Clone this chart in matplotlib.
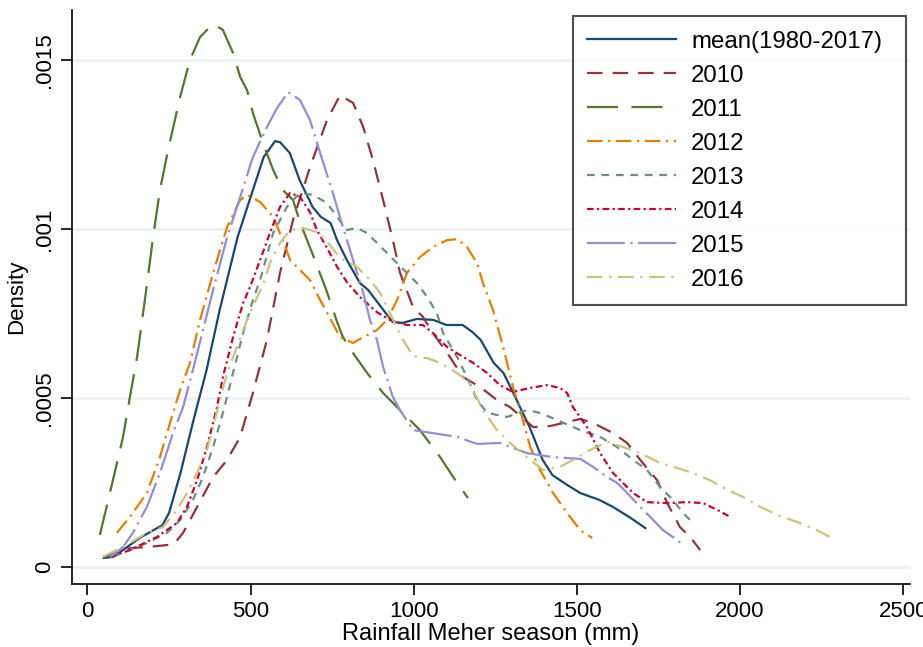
import numpy as np
import matplotlib
matplotlib.use("Agg")
import matplotlib.pyplot as plt

plt.rcParams['font.family'] = ['Liberation Sans', 'DejaVu Sans']

# kernel density curves (density in units of 1e-4)
mean_x = [50, 80, 160, 230, 250, 285, 325, 365, 405, 460, 500, 540, 575, 590, 620, 650, 690, 715, 745, 765,
          795, 835, 860, 900, 935, 965, 1010, 1060, 1100, 1150, 1180, 1205, 1245, 1275, 1305, 1355, 1395, 1425,
          1470, 1510, 1570, 1610, 1665, 1710]
mean_y = [0.27, 0.30, 0.86, 1.24, 1.60, 2.78, 4.35, 5.83, 7.60, 9.76, 10.95, 12.13, 12.60, 12.57, 12.25, 11.45,
          10.65, 10.36, 10.18, 9.67, 9.08, 8.40, 8.20, 7.69, 7.25, 7.22, 7.34, 7.31, 7.16, 7.16, 6.95, 6.72, 6.04,
          5.74, 5.15, 4.14, 3.17, 2.72, 2.43, 2.19, 1.98, 1.78, 1.45, 1.15]

y2010_x = [48, 130, 182, 244, 268, 293, 336, 385, 428, 468, 507, 550, 590, 630, 682, 734, 774, 814, 845, 875,
           906, 936, 958, 998, 1028, 1059, 1111, 1151, 1203, 1255, 1295, 1366, 1418, 1458, 1510, 1550, 1611, 1654,
           1694, 1746, 1777, 1816, 1847, 1878]
y2010_y = [0.30, 0.56, 0.59, 0.65, 0.71, 1.01, 1.78, 2.66, 3.17, 3.85, 5.15, 6.72, 8.70, 10.27, 11.83, 13.22,
           13.96, 13.73, 13.02, 12.04, 10.86, 9.67, 8.70, 7.69, 7.40, 6.92, 6.21, 5.62, 5.33, 4.94, 4.73, 4.14,
           4.17, 4.26, 4.38, 4.26, 3.96, 3.67, 3.17, 2.57, 1.89, 1.18, 0.89, 0.50]

y2011_x = [38, 78, 109, 130, 152, 182, 201, 222, 247, 284, 314, 345, 385, 415, 446, 468, 489, 507, 538, 569,
           599, 630, 651, 691, 734, 765, 783, 814, 857, 906, 958, 1019, 1081, 1121, 1166]
y2011_y = [0.95, 2.57, 3.85, 5.03, 6.21, 8.34, 9.76, 11.15, 12.34, 13.91, 15.0, 15.68, 16.07, 15.89, 15.21,
           14.50, 14.11, 13.43, 12.54, 11.75, 11.15, 10.86, 10.21, 9.23, 8.14, 7.25, 6.80, 6.33, 5.74, 5.15, 4.64,
           4.05, 3.25, 2.66, 2.04]

y2012_x = [90, 130, 182, 222, 262, 284, 314, 345, 385, 428, 468, 489, 529, 569, 599, 621, 651, 682, 713, 743,
           774, 814, 845, 887, 918, 949, 979, 1019, 1059, 1102, 1133, 1163, 1194, 1212, 1243, 1274, 1304, 1326,
           1357, 1387, 1427, 1470, 1510, 1547]
y2012_y = [1.01, 1.48, 2.19, 3.25, 4.56, 5.24, 6.04, 7.31, 8.70, 10.06, 10.86, 11.01, 10.80, 10.36, 9.67, 9.08,
           8.79, 8.49, 7.90, 7.37, 6.80, 6.63, 6.80, 7.01, 7.31, 7.90, 8.70, 9.17, 9.47, 9.67, 9.70, 9.47, 8.99,
           8.40, 7.60, 6.51, 5.33, 4.64, 3.55, 2.87, 2.19, 1.60, 1.09, 0.86]

y2013_x = [78, 182, 244, 284, 323, 354, 385, 415, 446, 477, 507, 529, 569, 611, 651, 691, 734, 765, 795, 826,
           857, 887, 918, 949, 979, 1010, 1041, 1071, 1090, 1133, 1163, 1194, 1225, 1286, 1347, 1387, 1439, 1510,
           1571, 1623, 1672, 1715, 1755, 1795, 1825, 1847]
y2013_y = [0.30, 0.71, 1.01, 1.39, 1.98, 2.66, 3.55, 4.56, 5.74, 6.92, 7.90, 8.49, 9.88, 10.65, 11.07, 11.01,
           10.77, 10.36, 9.97, 10.03, 9.88, 9.59, 9.29, 8.99, 8.70, 8.40, 7.99, 7.51, 6.92, 6.21, 5.62, 4.94, 4.56,
           4.44, 4.64, 4.56, 4.35, 4.05, 3.85, 3.55, 3.17, 2.87, 2.37, 1.98, 1.60, 1.39]

y2014_x = [69, 130, 213, 274, 305, 336, 366, 397, 415, 446, 477, 498, 529, 559, 590, 621, 651, 682, 703, 734,
           765, 795, 835, 887, 927, 979, 1028, 1059, 1102, 1142, 1182, 1225, 1264, 1304, 1357, 1408, 1448, 1470,
           1488, 1531, 1571, 1611, 1672, 1715, 1776, 1838, 1887, 1930, 1970]
y2014_y = [0.30, 0.50, 0.89, 1.30, 1.78, 2.57, 3.55, 4.73, 5.62, 6.80, 7.81, 8.28, 9.08, 9.88, 10.65, 11.07,
           10.95, 10.50, 9.97, 9.44, 8.88, 8.43, 7.99, 7.54, 7.31, 7.16, 7.16, 6.92, 6.51, 6.27, 6.04, 5.74, 5.38,
           5.18, 5.30, 5.38, 5.30, 5.15, 4.73, 4.14, 3.37, 2.78, 2.19, 1.92, 1.89, 1.92, 1.89, 1.69, 1.48]

y2015_x = [69, 109, 139, 182, 222, 262, 293, 323, 354, 385, 428, 468, 507, 550, 581, 615, 651, 682, 713, 752,
           783, 814, 845, 866, 887, 906, 936, 958, 998, 1059, 1133, 1194, 1264, 1347, 1427, 1510, 1550, 1593,
           1623, 1654, 1694, 1734, 1764, 1807, 1825]
y2015_y = [0.30, 0.59, 1.01, 1.78, 2.78, 3.96, 4.73, 5.83, 7.01, 8.20, 9.76, 10.95, 12.13, 13.02, 13.58, 14.05,
           13.82, 13.22, 12.25, 11.07, 10.06, 9.08, 8.11, 7.31, 6.72, 5.92, 5.03, 4.64, 4.05, 3.96, 3.85, 3.64,
           3.67, 3.37, 3.25, 3.20, 2.96, 2.66, 2.49, 2.19, 1.78, 1.39, 1.09, 0.80, 0.65]

y2016_x = [48, 130, 182, 231, 274, 305, 336, 366, 385, 406, 428, 458, 489, 520, 538, 559, 590, 621, 660, 703,
           743, 774, 795, 826, 866, 897, 927, 967, 998, 1041, 1081, 1133, 1172, 1212, 1255, 1295, 1347, 1396,
           1448, 1488, 1540, 1593, 1642, 1694, 1755, 1807, 1856, 1908, 1961, 2010, 2062, 2123, 2184, 2236, 2282]
y2016_y = [0.30, 0.71, 1.01, 1.18, 1.69, 2.19, 2.78, 3.46, 4.14, 4.94, 5.74, 6.51, 7.31, 7.99, 8.34, 8.99, 9.59,
           9.97, 10.03, 9.91, 9.53, 9.14, 9.05, 8.88, 8.49, 8.11, 7.51, 6.72, 6.24, 6.18, 6.04, 5.74, 5.44, 4.64,
           4.05, 3.67, 3.25, 2.87, 2.96, 3.17, 3.46, 3.70, 3.55, 3.37, 3.08, 2.93, 2.78, 2.57, 2.28, 2.07, 1.78,
           1.51, 1.30, 1.09, 0.86]

labels = ['mean(1980-2017)', '2010', '2011', '2012', '2013', '2014', '2015', '2016']
xs = [mean_x, y2010_x, y2011_x, y2012_x, y2013_x, y2014_x, y2015_x, y2016_x]
ys = [mean_y, y2010_y, y2011_y, y2012_y, y2013_y, y2014_y, y2015_y, y2016_y]

# stata s2color
colors = ['#1a476f', '#90353b', '#55752f', '#e37e00', '#6e8e84', '#c10534', '#938dd2', '#cac27e']
styles = ['-',
          (0, (7, 4.5)),            # dash
          (0, (14, 6)),             # longdash
          (0, (7, 2.5, 1, 2.5)),    # dash dot
          (0, (3.5, 3)),            # shortdash
          (0, (3, 1.5, 1, 1.5)),    # shortdash dot
          (0, (17, 2.5, 1, 2.5)),   # longdash dot
          (0, (7, 3, 1, 3))]        # dash dot

fig = plt.figure(figsize=(9.23, 6.47), dpi=100)
ax = fig.add_axes([72 / 923, 1 - 584 / 647, 838 / 923, 574 / 647])

for x, y, c, ls, lab in zip(xs, ys, colors, styles, labels):
    ax.plot(x, np.array(y) * 1e-4, color=c, linestyle=ls, lw=1.6, label=lab, zorder=3)

ax.set_xlim(-47.5, 2521)
ax.set_ylim(-0.0000503, 0.001648)
ax.set_xticks([0, 500, 1000, 1500, 2000, 2500])
ax.set_yticks([0, 0.0005, 0.001, 0.0015])
ax.set_yticklabels(['0', '.0005', '.001', '.0015'], rotation=90, va='center')
ax.grid(axis='y', color='#eaf2f3', lw=2, zorder=0)
ax.tick_params(axis='both', labelsize=16, length=8, width=1.2, color='black', direction='out', pad=4)

for s in ['top', 'right']:
    ax.spines[s].set_visible(False)
for s in ['left', 'bottom']:
    ax.spines[s].set_linewidth(1.2)

ax.set_xlabel('Rainfall Meher season (mm)', fontsize=17, labelpad=1)
ax.set_ylabel('Density', fontsize=16, labelpad=5)

leg = ax.legend(loc='upper left', bbox_to_anchor=(573 / 923, 1 - 17 / 647, 333 / 923, 0.001),
                bbox_transform=fig.transFigure, mode='expand',
                fontsize=17.3, frameon=True, fancybox=False, handlelength=3.7, handletextpad=0.62,
                labelspacing=0.5, borderpad=0.6, borderaxespad=0)
leg.get_frame().set_edgecolor('#222222')
leg.get_frame().set_linewidth(1.5)

fig.savefig('out.png', dpi=100)
